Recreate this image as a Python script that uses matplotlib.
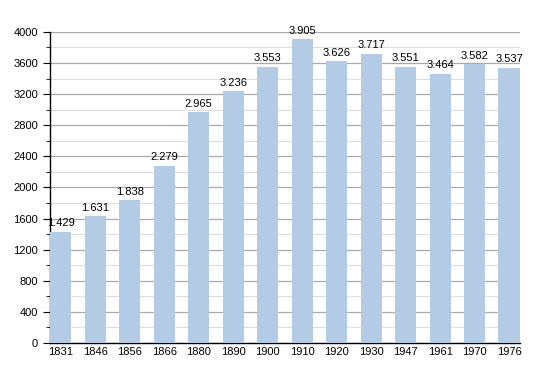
import matplotlib
matplotlib.use("Agg")
import matplotlib.pyplot as plt
from matplotlib.ticker import MultipleLocator

years = ["1831", "1846", "1856", "1866", "1880", "1890", "1900",
         "1910", "1920", "1930", "1947", "1961", "1970", "1976"]
population = [1429, 1631, 1838, 2279, 2965, 3236, 3553,
              3905, 3626, 3717, 3551, 3464, 3582, 3537]

plt.rcParams["font.family"] = ["Liberation Sans", "DejaVu Sans"]

fig = plt.figure(figsize=(5.5, 3.73), dpi=100)
ax = fig.add_axes([0.0909, 0.0804, 0.854, 0.834])

x = range(len(years))
ax.bar(x, population, width=0.61, color="#b3cbe5", zorder=3)

# value labels with dot as thousands separator
for xi, v in zip(x, population):
    label = f"{v:,}".replace(",", ".")
    ax.text(xi, v + 45, label, ha="center", va="bottom", fontsize=8, zorder=4)

ax.set_ylim(0, 4000)
ax.set_xlim(-0.31, len(years) - 0.69)
ax.yaxis.set_major_locator(MultipleLocator(400))
ax.yaxis.set_minor_locator(MultipleLocator(200))
ax.grid(axis="y", which="major", color="#aaaaaa", linewidth=0.9, zorder=0)
ax.grid(axis="y", which="minor", color="#dedede", linewidth=0.8, zorder=0)

ax.set_xticks(list(x))
ax.set_xticklabels(years)
ax.tick_params(axis="x", length=0, labelsize=8, pad=3)
ax.tick_params(axis="y", which="major", length=5, labelsize=8, direction="out")
ax.tick_params(axis="y", which="minor", length=3, direction="out")

for side in ["top", "right"]:
    ax.spines[side].set_visible(False)
ax.spines["left"].set_linewidth(1.0)
ax.spines["bottom"].set_linewidth(1.0)

fig.savefig("out.png", dpi=100)
